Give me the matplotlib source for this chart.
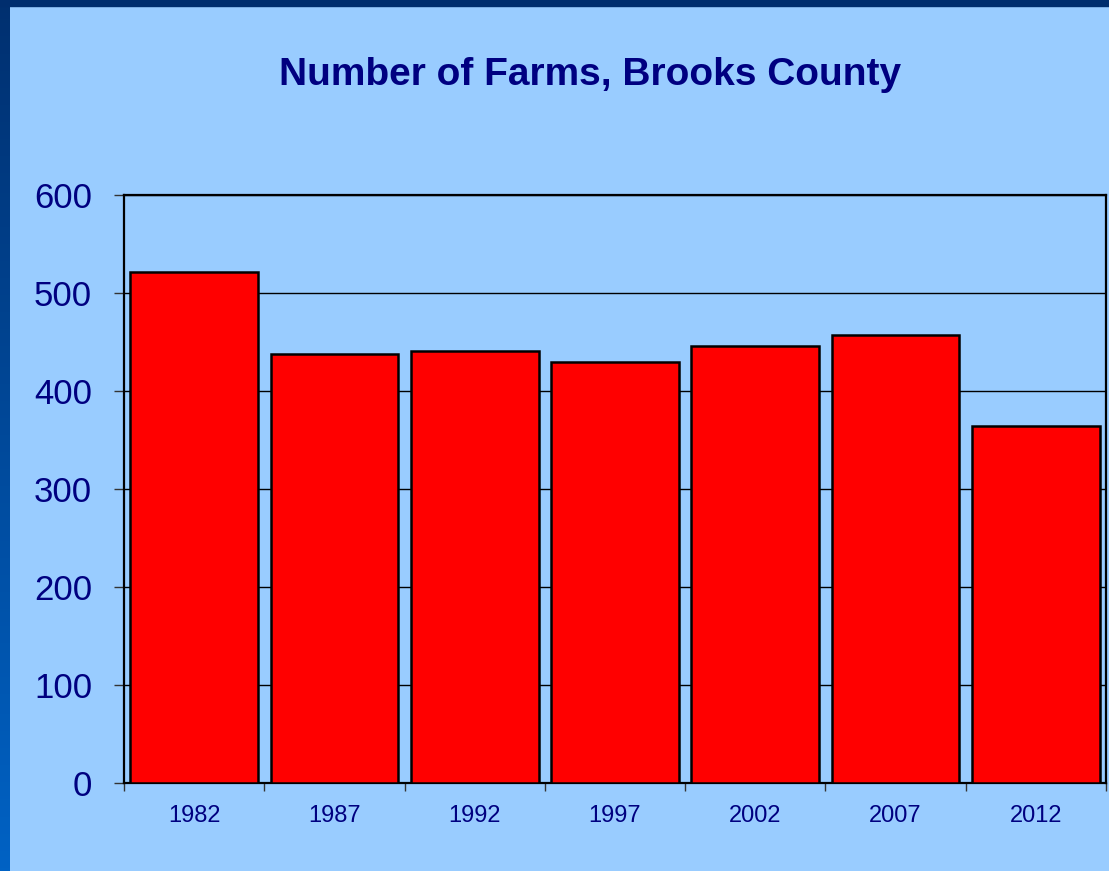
import numpy as np
import matplotlib
matplotlib.use("Agg")
import matplotlib.pyplot as plt

# Farm counts
years = ["1982", "1987", "1992", "1997", "2002", "2007", "2012"]
farms = [521, 438, 441, 430, 446, 457, 364]
yticks = [0, 100, 200, 300, 400, 500, 600]

bg = "#99CCFF"
navy = "#000080"

fig = plt.figure(figsize=(11.09, 8.71), dpi=100, facecolor=bg)

# dark frame on the left (gradient) and top
band = fig.add_axes([0, 0, 10 / 1109, 1])
grad = np.linspace(0, 1, 256).reshape(-1, 1)
cmap = matplotlib.colors.LinearSegmentedColormap.from_list("edge", ["#0062C4", "#003070"])
band.imshow(grad, aspect="auto", cmap=cmap, origin="lower")
band.axis("off")
fig.patches.append(plt.Rectangle((0, 1 - 6 / 871), 1, 6 / 871, transform=fig.transFigure,
                                 color="#002E6E", zorder=5))

ax = fig.add_axes([124 / 1109, 88 / 871, 982 / 1109, 588 / 871])
ax.set_facecolor(bg)
x = np.arange(len(years))
ax.bar(x, farms, width=0.91, color="#FF0000", edgecolor="black", linewidth=1.8, zorder=3)

ax.set_xlim(-0.5, len(years) - 0.5)
ax.set_ylim(0, 600)
ax.set_yticks(yticks)
ax.set_yticklabels([str(v) for v in yticks], fontsize=25, color=navy, family="Liberation Sans")
ax.yaxis.grid(True, color="black", linewidth=1, zorder=0)

ax.set_xticks(x)
ax.set_xticklabels(years, fontsize=17, color=navy, family="Liberation Sans")
ax.set_xticks(np.arange(len(years) + 1) - 0.5, minor=True)
ax.tick_params(axis="x", which="major", length=0, pad=16)
ax.tick_params(axis="x", which="minor", length=6, width=1, color="#333333")
ax.tick_params(axis="y", length=7, width=1, color="#333333", pad=16)

for s in ax.spines.values():
    s.set_color("black")
    s.set_linewidth(1.6)

fig.text(590 / 1109, 1 - 75 / 871, "Number of Farms, Brooks County", ha="center", va="center",
         fontsize=28, fontweight="bold", color=navy, family="Liberation Sans")

fig.savefig("out.png", dpi=100, facecolor=bg)
